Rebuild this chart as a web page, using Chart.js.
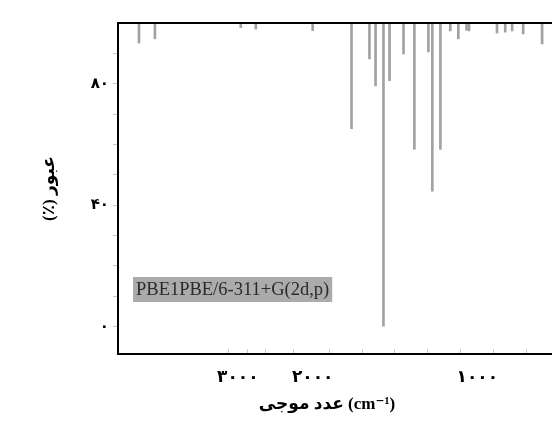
<!DOCTYPE html>
<html>
<head>
  <meta charset="utf-8">
  <script src="https://cdn.jsdelivr.net/npm/chart.js"></script>
  <style>
    body { margin: 0; overflow: hidden; background: #fff; }
    #wrap { position: absolute; left: 0; top: 0; width: 600px; height: 439px; }
  </style>
</head>
<body>
<div id="wrap"><canvas id="irChart"></canvas></div>
<script>
// stick spectrum: wavenumber (cm-1) and transmittance (%)
const waveNumbers = [4320, 4107, 2960, 2760, 2000, 1764, 1655, 1618, 1570, 1533, 1448, 1382, 1297, 1273, 1224, 1164, 1115, 1065, 1050, 880, 830, 788, 721, 606];
const transmit    = [93.4, 94.8, 98.5, 98.0, 97.5, 65.2, 88.2, 79.3, 0.0, 81.0, 89.8, 58.4, 90.5, 44.6, 58.4, 97.4, 94.8, 97.6, 97.4, 96.7, 97.0, 97.4, 96.4, 93.1];

const xTickValues = [3000, 2750, 2500, 2000, 1800, 1600, 1400, 1200, 1000, 800, 600];
const xLabelValues = [3000, 2000, 1000];
const xLabelTexts = ['۳۰۰۰', '۲۰۰۰', '۱۰۰۰'];

const yTickValues = [0, 10, 20, 30, 40, 50, 60, 70, 80, 90];
const yLabelValues = [0, 40, 80];
const yLabelTexts = ['۰', '۴۰', '۸۰'];

const xTitle = 'عدد موجی (cm⁻¹)';
const yTitle = '(٪) عبور';
const methodLabel = 'PBE1PBE/6-311+G(2d,p)';

// wavenumber axis: region above 2000 cm-1 is compressed
const BREAK = 2000, SQUEEZE = 0.455;
function waveDecimal(scale, v) {
  const total = (scale.max - BREAK) * SQUEEZE + (BREAK - scale.min);
  if (v >= BREAK) return (scale.max - v) * SQUEEZE / total;
  return ((scale.max - BREAK) * SQUEEZE + (BREAK - v)) / total;
}
class WaveScale extends Chart.LinearScale {
  getPixelForValue(value) {
    return this.getPixelForDecimal(waveDecimal(this, value));
  }
  getValueForPixel(pixel) {
    const d = this.getDecimalForPixel(pixel);
    const total = (this.max - BREAK) * SQUEEZE + (BREAK - this.min);
    const left = (this.max - BREAK) * SQUEEZE;
    const t = d * total;
    return t <= left ? this.max - t / SQUEEZE : BREAK - (t - left);
  }
}
WaveScale.id = 'wave';
WaveScale.defaults = Chart.LinearScale.defaults;
Chart.register(WaveScale);

const frame = {
  id: 'frame',
  afterDraw(chart) {
    const {ctx, chartArea: a} = chart;
    ctx.save();
    ctx.strokeStyle = '#000';
    ctx.lineWidth = 2;
    ctx.beginPath();
    ctx.moveTo(a.left - 1, a.top);
    ctx.lineTo(a.right + 1, a.top);
    ctx.lineTo(a.right, a.bottom);
    ctx.stroke();
    // method label box
    ctx.font = '18.5px "Liberation Serif", serif';
    const w = ctx.measureText(methodLabel).width;
    const bx = a.left + 15, by = 277;
    ctx.fillStyle = '#ababab';
    ctx.fillRect(bx, by, w + 6, 25);
    ctx.fillStyle = '#2a2a2a';
    ctx.textBaseline = 'middle';
    ctx.fillText(methodLabel, bx + 3, by + 13);
    // x axis title, centred under the visible part of the plot
    ctx.font = 'bold 17px "Liberation Serif", "DejaVu Sans", serif';
    ctx.fillStyle = '#000';
    ctx.textAlign = 'center';
    ctx.fillText(xTitle, 327, 405);
    ctx.restore();
  }
};

const titleFont = { family: '"Liberation Serif", "DejaVu Sans", serif', size: 17, weight: 'bold' };

new Chart(document.getElementById('irChart'), {
  type: 'bar',
  data: {
    datasets: [{
      data: waveNumbers.map((w, i) => ({ x: w, y: [transmit[i], 100] })),
      backgroundColor: '#a2a2a2',
      borderWidth: 0,
      barThickness: 2
    }]
  },
  options: {
    responsive: true,
    maintainAspectRatio: false,
    animation: false,
    layout: { padding: { left: 0, top: 23, right: 24, bottom: 0 } },
    plugins: { legend: { display: false }, tooltip: { enabled: false } },
    scales: {
      x: {
        type: 'wave',
        min: 400,
        max: 4600,
        afterBuildTicks: s => { s.ticks = xTickValues.map(v => ({ value: v })); },
        afterFit: s => { s.height = 85; },
        grid: { drawOnChartArea: false, tickLength: -5, color: '#c8c8c8' },
        border: { color: '#000', width: 2 },
        ticks: {
          autoSkip: false,
          maxRotation: 0,
          padding: 18,
          color: '#000',
          font: { family: '"DejaVu Sans", sans-serif', size: 17, weight: 'bold' },
          callback: v => {
            const k = xLabelValues.indexOf(v);
            return k >= 0 ? xLabelTexts[k] : '';
          }
        }
      },
      y: {
        min: -9,
        max: 100,
        afterBuildTicks: s => { s.ticks = yTickValues.map(v => ({ value: v })); },
        afterFit: s => { s.width = 118; },
        grid: { drawOnChartArea: false, tickLength: 5, color: '#c8c8c8' },
        border: { color: '#000', width: 2 },
        ticks: {
          padding: 4,
          color: '#000',
          font: { family: '"DejaVu Sans", sans-serif', size: 15, weight: 'bold' },
          callback: v => {
            const k = yLabelValues.indexOf(v);
            return k >= 0 ? yLabelTexts[k] : '';
          }
        },
        title: {
          display: true,
          text: yTitle,
          color: '#000',
          font: titleFont,
          padding: { top: 39, bottom: 0 }
        }
      }
    }
  },
  plugins: [frame]
});
</script>
</body>
</html>
